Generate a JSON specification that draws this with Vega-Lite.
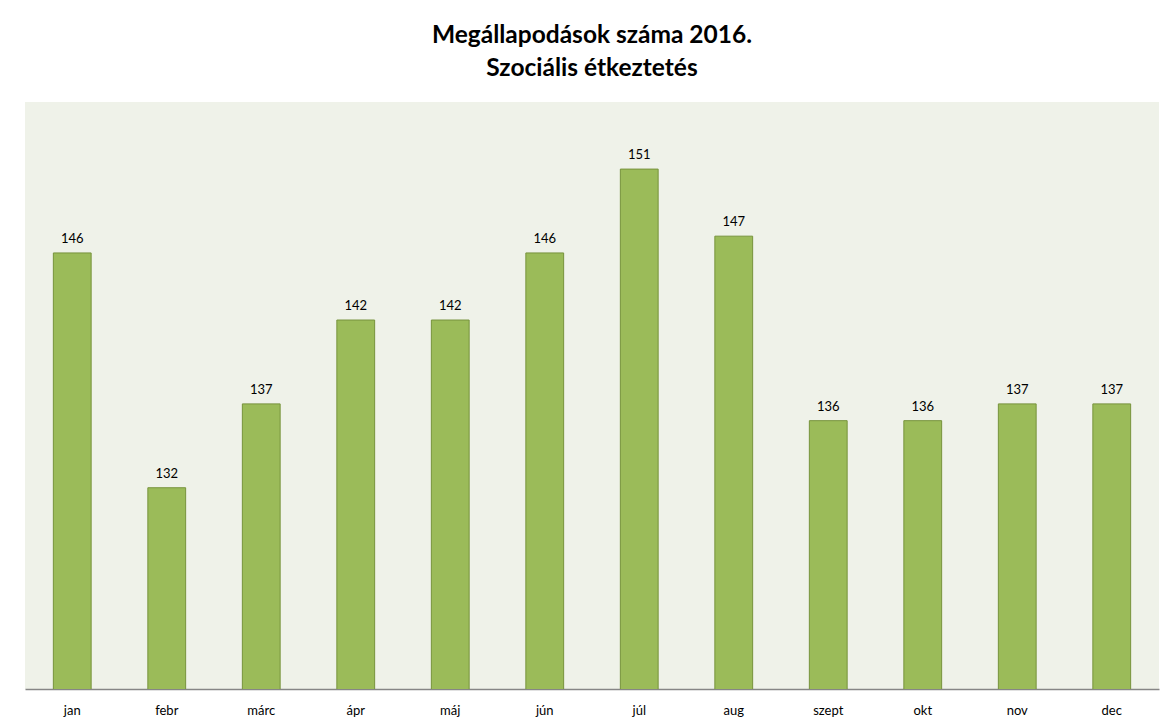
{
  "$schema": "https://vega.github.io/schema/vega-lite/v6.json",
  "width": 1134,
  "height": 587,
  "autosize": {"type": "none"},
  "padding": {"left": 25, "top": 102, "right": 8, "bottom": 39},
  "background": "#ffffff",
  "title": {
    "text": ["Megállapodások száma 2016.", "Szociális étkeztetés"],
    "font": "Lato",
    "fontSize": 24.5,
    "fontWeight": "bold",
    "color": "#000000",
    "lineHeight": 33,
    "offset": 21,
    "anchor": "middle"
  },
  "config": {
    "view": {"fill": "#eff2e9", "stroke": null},
    "font": "Lato"
  },
  "data": {
    "values": [
      {"honap": "jan", "ertek": 146},
      {"honap": "febr", "ertek": 132},
      {"honap": "márc", "ertek": 137},
      {"honap": "ápr", "ertek": 142},
      {"honap": "máj", "ertek": 142},
      {"honap": "jún", "ertek": 146},
      {"honap": "júl", "ertek": 151},
      {"honap": "aug", "ertek": 147},
      {"honap": "szept", "ertek": 136},
      {"honap": "okt", "ertek": 136},
      {"honap": "nov", "ertek": 137},
      {"honap": "dec", "ertek": 137}
    ]
  },
  "encoding": {
    "x": {
      "field": "honap",
      "type": "nominal",
      "sort": null,
      "scale": {"paddingInner": 0.6, "paddingOuter": 0.3},
      "axis": {
        "title": null,
        "labelAngle": 0,
        "ticks": false,
        "domainColor": "#868686",
        "domainWidth": 1.5,
        "labelFontSize": 13,
        "labelColor": "#000000",
        "labelPadding": 15,
        "labelFont": "Lato"
      }
    },
    "y": {
      "field": "ertek",
      "type": "quantitative",
      "scale": {"domain": [120, 155], "nice": false, "zero": false},
      "axis": null
    }
  },
  "layer": [
    {
      "mark": {"type": "bar", "fill": "#9bbb59", "stroke": "#77933c", "strokeWidth": 1, "clip": true}
    },
    {
      "mark": {"type": "text", "dy": -14, "fontSize": 13, "color": "#000000", "font": "Lato"},
      "encoding": {"text": {"field": "ertek", "type": "quantitative"}}
    }
  ]
}
